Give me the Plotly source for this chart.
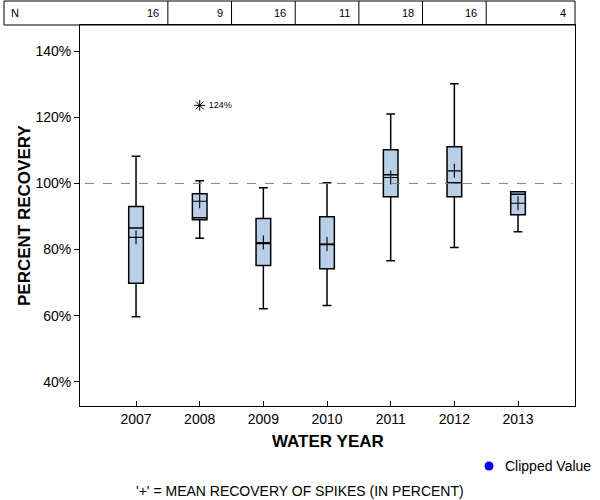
import plotly.graph_objects as go

years = ["2007", "2008", "2009", "2010", "2011", "2012", "2013"]
n_counts = [16, 9, 16, 11, 18, 16, 4]
q1 = [69.8, 89.0, 75.2, 74.2, 96.0, 96.0, 90.5]
median = [86.5, 89.6, 81.8, 81.5, 102.6, 100.2, 96.7]
q3 = [93.0, 96.9, 89.4, 89.9, 110.2, 111.1, 97.5]
lower_whisker = [59.7, 83.4, 62.1, 63.1, 76.6, 80.6, 85.4]
upper_whisker = [108.2, 100.8, 98.7, 100.2, 121.0, 130.1, 97.5]
means = [83.7, 94.6, 82.1, 81.7, 101.8, 103.8, 94.0]
outlier_year = ["2008"]
outlier_value = [123.6]
outlier_label = ["124%"]
y_tick_vals = [40, 60, 80, 100, 120, 140]
y_tick_text = ["40%", "60%", "80%", "100%", "120%", "140%"]

FONT = "Liberation Sans, Arial, sans-serif"
BOX_FILL = "#b9cfe7"

fig = go.Figure()

fig.add_trace(go.Box(
    x=years, q1=q1, median=median, q3=q3,
    lowerfence=lower_whisker, upperfence=upper_whisker,
    width=0.23, whiskerwidth=0.6,
    fillcolor=BOX_FILL, line=dict(color="black", width=1.5),
    boxpoints=False, hoverinfo="skip", showlegend=False,
))

fig.add_trace(go.Scatter(
    x=years, y=means, mode="markers",
    marker=dict(symbol="cross-thin", size=10, color="black",
                line=dict(color="black", width=1.1)),
    hoverinfo="skip", showlegend=False,
))

fig.add_trace(go.Scatter(
    x=outlier_year, y=outlier_value, mode="markers+text",
    text=[" " + t for t in outlier_label], textposition="middle right",
    textfont=dict(family=FONT, size=9, color="black"),
    marker=dict(symbol="asterisk-open", size=9, color="black",
                line=dict(color="black", width=1)),
    hoverinfo="skip", showlegend=False,
))

shapes = []
# reference line at 100%
shapes.append(dict(type="line", xref="paper", yref="y", x0=0.01, x1=0.995,
                   y0=100, y1=100, line=dict(color="#808080", width=1, dash="dash")))
# N table
tbl_top = (406 - 1) / 381
shapes.append(dict(type="rect", xref="paper", yref="paper",
                   x0=(4 - 80) / 495, x1=1.0, y0=1.0, y1=tbl_top,
                   line=dict(color="black", width=1)))
for i in range(len(years) - 1):
    shapes.append(dict(type="line", xref="x", yref="paper",
                       x0=i + 0.5, x1=i + 0.5, y0=1.0, y1=tbl_top,
                       line=dict(color="black", width=1)))
# legend dot
shapes.append(dict(type="circle", xref="paper", yref="paper",
                   xsizemode="pixel", ysizemode="pixel",
                   xanchor=(489 - 80) / 495, yanchor=(406 - 466) / 381,
                   x0=-4.5, x1=4.5, y0=-4.5, y1=4.5,
                   fillcolor="#0000ff", line=dict(color="#0000ff", width=0)))

annotations = []
tbl_y = (406 - 13) / 381
annotations.append(dict(text="N", xref="paper", yref="paper", x=(9 - 80) / 495, y=tbl_y,
                        xanchor="left", yanchor="middle", showarrow=False,
                        font=dict(family=FONT, size=11, color="black")))
edges = [i + 0.5 for i in range(len(years) - 1)]
for i, n in enumerate(n_counts):
    if i < len(edges):
        annotations.append(dict(text=str(n), xref="x", yref="paper", x=edges[i], y=tbl_y,
                                xanchor="right", yanchor="middle", showarrow=False, xshift=-7,
                                font=dict(family=FONT, size=11, color="black")))
    else:
        annotations.append(dict(text=str(n), xref="paper", yref="paper", x=1.0, y=tbl_y,
                                xanchor="right", yanchor="middle", showarrow=False, xshift=-7,
                                font=dict(family=FONT, size=11, color="black")))
annotations.append(dict(text="<b>WATER YEAR</b>", xref="paper", yref="paper",
                        x=(328 - 80) / 495, y=(406 - 441) / 381, xanchor="center", yanchor="middle",
                        showarrow=False, font=dict(family=FONT, size=17, color="black")))
annotations.append(dict(text="<b>PERCENT RECOVERY</b>", xref="paper", yref="paper",
                        x=(25 - 80) / 495, y=(406 - 216) / 381, xanchor="center", yanchor="middle",
                        textangle=-90, showarrow=False,
                        font=dict(family=FONT, size=17, color="black")))
annotations.append(dict(text="Clipped Value", xref="paper", yref="paper",
                        x=(503 - 80) / 495, y=(406 - 466) / 381, xanchor="left", yanchor="middle",
                        showarrow=False, font=dict(family=FONT, size=14, color="black")))
annotations.append(dict(text="'+' = MEAN RECOVERY OF SPIKES (IN PERCENT)", xref="paper", yref="paper",
                        x=(300 - 80) / 495, y=(406 - 491) / 381, xanchor="center", yanchor="middle",
                        showarrow=False, font=dict(family=FONT, size=14, color="black")))

fig.update_layout(
    width=600, height=500,
    margin=dict(l=80, r=25, t=25, b=94, pad=0),
    paper_bgcolor="white", plot_bgcolor="white",
    font=dict(family=FONT, size=14, color="black"),
    showlegend=False,
    shapes=shapes, annotations=annotations,
    xaxis=dict(type="category", range=[-0.88, 6.895], showline=True, mirror=True,
               linecolor="black", linewidth=1, ticks="inside", ticklen=5,
               tickcolor="black", showgrid=False, zeroline=False,
               tickfont=dict(family=FONT, size=14, color="black")),
    yaxis=dict(range=[32.7, 147.9], tickmode="array", tickvals=y_tick_vals, ticktext=y_tick_text,
               showline=True, mirror=True, linecolor="black", linewidth=1,
               ticks="outside", ticklen=5, tickcolor="black", showgrid=False, zeroline=False,
               tickfont=dict(family=FONT, size=14, color="black")),
)

fig.write_html("out.html", config={"displayModeBar": False},
               post_script="document.body.style.margin='0px';")
